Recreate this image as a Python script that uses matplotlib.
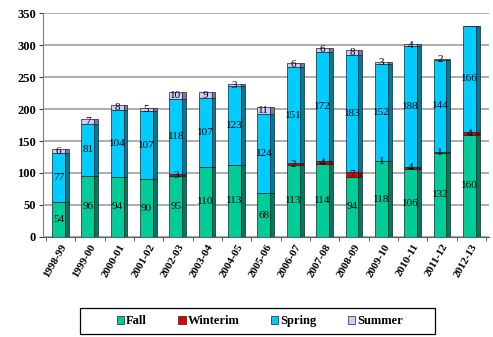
import matplotlib
matplotlib.use('Agg')
import matplotlib.pyplot as plt
import numpy as np

# ── Enrollment by term ───────────────────────────────────────────────────────────
years = ['1998-99', '1999-00', '2000-01', '2001-02', '2002-03', '2003-04',
         '2004-05', '2005-06', '2006-07', '2007-08', '2008-09', '2009-10',
         '2010-11', '2011-12', '2012-13']
fall     = [54, 96, 94, 90, 95, 110, 113, 68, 113, 114, 94, 118, 106, 132, 160]
winterim = [0, 0, 0, 0, 3, 0, 0, 0, 2, 4, 7, 1, 4, 1, 4]
spring   = [77, 81, 104, 107, 118, 107, 123, 124, 151, 172, 183, 152, 188, 144, 166]
summer   = [6, 7, 8, 5, 10, 9, 3, 11, 6, 6, 8, 3, 4, 2, 0]

series = [
    ('Fall',     fall,     '#00CC99', '#007A5C'),
    ('Winterim', winterim, '#E00000', '#800000'),
    ('Spring',   spring,   '#00CCFF', '#007A99'),
    ('Summer',   summer,   '#CCCCFF', '#7A7A99'),
]

plt.rcParams['font.family'] = ['Liberation Serif', 'DejaVu Serif']

fig = plt.figure(figsize=(4.93, 3.37), dpi=100)
ax = fig.add_axes([0.087, 0.297, 0.905, 0.664])

x = np.arange(len(years))
W = 0.44      # front face
D = 0.13      # side (depth) face

bottom = np.zeros(len(years))
for name, vals, c_front, c_side in series:
    vals = np.array(vals, dtype=float)
    ax.bar(x - 0.07, vals, W, bottom=bottom, color=c_front,
           edgecolor='#202020', linewidth=0.5, zorder=3, label=name)
    ax.bar(x - 0.07 + W / 2 + D / 2, vals, D, bottom=bottom, color=c_side,
           edgecolor='#202020', linewidth=0.5, zorder=3)
    for xi, b, v in zip(x, bottom, vals):
        if v > 0:
            ax.text(xi - 0.07, b + v / 2, f'{int(v)}', ha='center', va='center',
                    fontsize=8, color='black', zorder=5)
    bottom += vals

ax.set_ylim(0, 350)
ax.set_xlim(-0.6, len(years) - 0.4)
ax.set_yticks(np.arange(0, 351, 50))
ax.set_xticks(x)
ax.set_xticklabels(years, rotation=60, ha='right', rotation_mode='anchor',
                   fontsize=8, fontweight='bold')
for lbl in ax.get_yticklabels():
    lbl.set_fontweight('bold')
    lbl.set_fontsize(9)

ax.yaxis.grid(True, color='#A0A0A0', linewidth=1.2, zorder=0)
ax.set_axisbelow(True)
for s in ('top', 'right'):
    ax.spines[s].set_visible(False)
ax.spines['left'].set_color('#808080')
ax.spines['bottom'].set_color('#606060')
ax.tick_params(axis='both', length=3, color='#404040', pad=2)
ax.set_xticks(np.arange(len(years) + 1) - 0.5, minor=True)
ax.tick_params(axis='x', which='major', length=0, pad=4)
ax.tick_params(axis='x', which='minor', length=3, color='#404040')

# legend frame drawn separately so the entries can sit inside a wider box
frame = plt.Rectangle((80 / 493, 3 / 337), 355 / 493, 26 / 337,
                      transform=fig.transFigure, facecolor='white',
                      edgecolor='black', linewidth=0.9)
fig.add_artist(frame)

handles = [plt.Rectangle((0, 0), 1, 1, facecolor=c, edgecolor='#202020', linewidth=0.5)
           for _, _, c, _ in series]
leg = fig.legend(handles, [s[0] for s in series], loc='center',
                 bbox_to_anchor=(0.527, 0.047), ncol=4, frameon=False, fontsize=9,
                 handlelength=0.6, handleheight=0.6, handletextpad=0.15,
                 columnspacing=2.5)
for t in leg.get_texts():
    t.set_fontweight('bold')

fig.savefig('out.png', dpi=100)
